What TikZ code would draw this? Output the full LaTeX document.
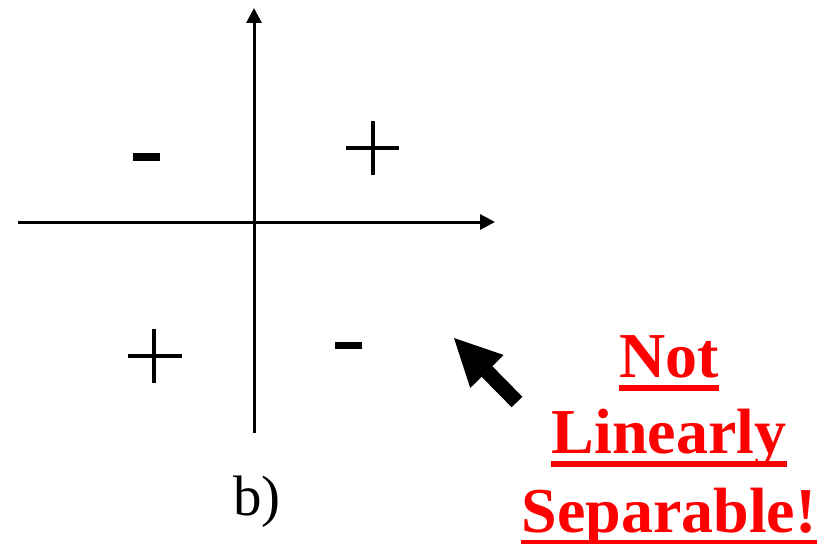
\documentclass[tikz,border=0pt]{standalone}
\usepackage{fontspec}
\setmainfont{Liberation Serif}
\usetikzlibrary{arrows.meta}

\tikzset{
  axis/.style={line width=3pt,-{Triangle[length=15pt,width=15pt]}},
  plusmark/.style={line width=4pt},
  bigarrow/.style={line width=15pt,-{Triangle[length=47pt,width=47pt,line width=0pt]}},
  notetext/.style={red,inner sep=0pt,anchor=base,font=\fontsize{64}{77}\selectfont\bfseries}
}

\begin{document}
\begin{tikzpicture}[x=1pt,y=-1pt]
  \useasboundingbox (0,0) rectangle (829,543);
  % axes
  \draw[axis] (18,222) -- (495,222);
  \draw[axis] (254,433) -- (254,8);
  % plus signs
  \draw[plusmark] (346,148) -- (399,148) (373,121) -- (373,175);
  \draw[plusmark] (128,356) -- (182,356) (154,329) -- (154,383);
  % minus signs
  \fill (133,153) rectangle (160,161);
  \fill (335,342) rectangle (362,349);
  % label
  \node[anchor=base,inner sep=0pt,font=\fontsize{57}{68}\selectfont] (label) at (257,515) {b)};
  % note
  \node[notetext] (not) at (669,377) {Not};
  \node[notetext] (linearly) at (669,453) {Linearly};
  \node[notetext] (separable) at (669,532) {Separable!};
  \foreach \n in {not,linearly,separable}
    \fill[red] ([yshift=-8pt]\n.base west) rectangle ([yshift=-14pt]\n.base east);
  % arrow
  \coordinate (tail) at (517,402);
  \coordinate (tip) at (454,338);
  \draw[bigarrow] (tail) -- (tip);
\end{tikzpicture}
\end{document}
